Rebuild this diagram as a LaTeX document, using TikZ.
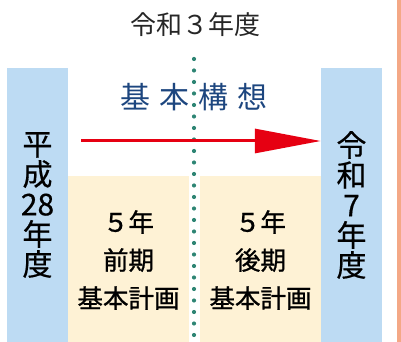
\documentclass[tikz,border=0pt]{standalone}
\usepackage{fontspec}
\setmainfont{Noto Sans CJK JP}
\newfontfamily\planfont{Noto Sans CJK JP}[FakeBold=0.9]
\newfontfamily\barfont{Noto Sans CJK JP}[FakeBold=0.5]
\usepackage{xcolor}
\usetikzlibrary{arrows.meta}
\definecolor{barblue}{HTML}{BDDBF3}
\definecolor{planbeige}{HTML}{FEF2D5}
\definecolor{dotteal}{HTML}{2E8574}
\definecolor{titleblue}{HTML}{1D467F}
\definecolor{arrowred}{HTML}{E60012}
\definecolor{edgeorange}{HTML}{F4A886}

\begin{document}
\begin{tikzpicture}[x=1pt,y=1pt,
  yearbar/.style={fill=barblue,minimum width=61pt,minimum height=274pt,inner sep=0pt,
    align=center,font=\barfont\fontsize{30}{30}\selectfont},
  planbox/.style={fill=planbeige,minimum width=121pt,minimum height=167pt,inner sep=0pt,
    align=center,font=\planfont\fontsize{25.5}{38}\selectfont}]
\useasboundingbox (0,0) rectangle (401,342);

% Right edge
\fill[edgeorange] (397,0) rectangle (401,342);

% Year bars
\node[yearbar] (startbar) at (37.5,137) {平\\成\\28\\年\\度};
\node[yearbar] (endbar) at (351.5,137) {令\\和\\7\\年\\度};

% Five-year plans
\node[planbox] (firstplan) at (128.5,82) {５年\\前期\\基本計画};
\node[planbox] (secondplan) at (260.5,82) {５年\\後期\\基本計画};

% Middle year
\node[font=\fontsize{26}{26}\selectfont,text=black!85] (midyear) at (195,317) {令和３年度};
\draw[dotteal,line width=4.2pt,line cap=round,dash pattern=on 0pt off 11.5pt]
  (194,283) -- (194,0);

% Basic concept
\node[font=\fontsize{30}{30}\selectfont,text=titleblue] (concept) at (194,245)
  {基\hspace{9pt}本\hspace{9pt}構\hspace{9pt}想};
\coordinate (arrowstart) at (81,201);
\draw[arrowred,line width=3pt,-{Triangle[length=66pt,width=24pt]}]
  (arrowstart) -- (arrowstart -| endbar.west);
\end{tikzpicture}
\end{document}
